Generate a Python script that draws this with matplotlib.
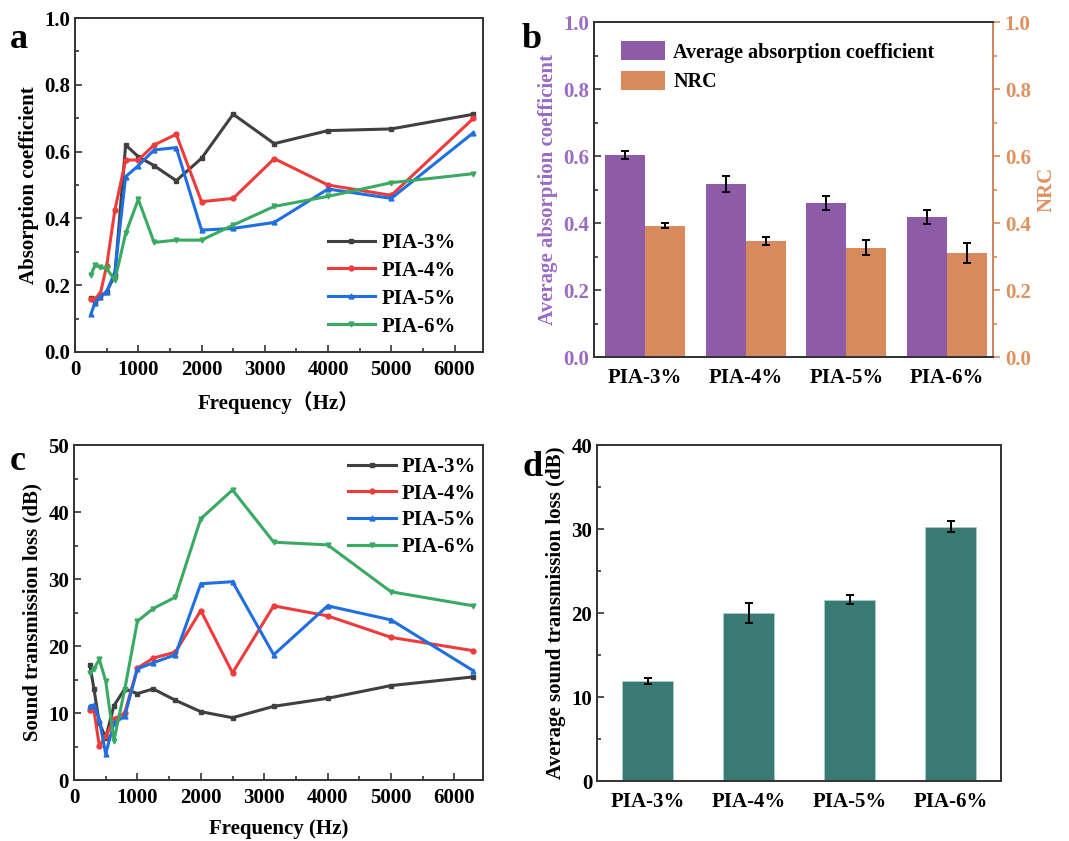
"""
Acoustic performance of PIA foams: absorption (a, b) and transmission loss (c, d)
"""

import matplotlib
matplotlib.use('Agg')
import matplotlib.pyplot as plt
from matplotlib.ticker import MultipleLocator
import numpy as np

plt.rcParams['font.family'] = ['Liberation Serif', 'Noto Sans CJK SC']
plt.rcParams['font.weight'] = 'bold'
plt.rcParams['axes.labelweight'] = 'bold'

FREQ = [250, 315, 400, 500, 630, 800, 1000, 1250, 1600, 2000, 2500, 3150, 4000, 5000, 6300]
SAMPLES = ['PIA-3%', 'PIA-4%', 'PIA-5%', 'PIA-6%']

# absorption coefficient curves (panel a)
ABS_3 = [0.162, 0.148, 0.165, 0.18, 0.23, 0.62, 0.585, 0.558, 0.513, 0.58, 0.712, 0.624, 0.663, 0.668, 0.712]
ABS_4 = [0.16, 0.16, 0.175, 0.258, 0.425, 0.575, 0.575, 0.62, 0.652, 0.45, 0.46, 0.579, 0.50, 0.469, 0.70]
ABS_5 = [0.113, 0.147, 0.165, 0.18, 0.24, 0.525, 0.558, 0.605, 0.612, 0.365, 0.37, 0.388, 0.488, 0.46, 0.657]
ABS_6 = [0.23, 0.26, 0.253, 0.25, 0.215, 0.355, 0.457, 0.328, 0.335, 0.335, 0.38, 0.436, 0.466, 0.507, 0.534]

# sound transmission loss curves (panel c)
STL_3 = [17.2, 13.6, 8.5, 6.3, 11.1, 13.6, 12.9, 13.6, 11.9, 10.2, 9.3, 11.0, 12.2, 14.1, 15.4]
STL_4 = [10.4, 10.4, 5.1, 6.5, 9.1, 10.0, 16.7, 18.2, 19.1, 25.3, 16.0, 26.0, 24.5, 21.3, 19.3]
STL_5 = [11.0, 11.2, 9.0, 3.9, 8.5, 9.5, 16.6, 17.5, 18.7, 29.3, 29.6, 18.7, 26.0, 23.9, 16.3]
STL_6 = [16.0, 16.6, 18.0, 14.8, 5.9, 13.5, 23.7, 25.6, 27.3, 39.0, 43.3, 35.5, 35.1, 28.1, 26.0]

# panel b: averages and NRC with errors
AVG_ABS = [0.602, 0.516, 0.46, 0.417]
AVG_ABS_ERR = [0.012, 0.023, 0.021, 0.021]
NRC = [0.392, 0.347, 0.326, 0.31]
NRC_ERR = [0.007, 0.012, 0.022, 0.030]

# panel d: average STL with errors
AVG_STL = [11.9, 20.0, 21.6, 30.3]
AVG_STL_ERR = [0.36, 1.17, 0.55, 0.65]

LINE_COLORS = ['#404040', '#ee3b3b', '#1f6fe0', '#3aaa63']
MARKERS = ['s', 'o', '^', 'v']
SPINE = '#333333'
PURPLE = '#8e5ba8'
PURPLE_TXT = '#9b6bc4'
ORANGE = '#d98a5c'
ORANGE_TXT = '#e0915f'
TEAL = '#3a7a74'

TICK_FS = 15
LABEL_FS = 15


def style_axes(ax):
    for s in ax.spines.values():
        s.set_color(SPINE)
        s.set_linewidth(1.4)
    ax.tick_params(which='both', direction='in', top=False, right=False,
                   labelsize=TICK_FS, color=SPINE, width=1.2)
    ax.tick_params(which='major', length=5)
    ax.tick_params(which='minor', length=3)


def line_panel(ax, series, ylim, ymaj, ymin, ylabel, xlabel):
    for vals, c, m, name in zip(series, LINE_COLORS, MARKERS, SAMPLES):
        ax.plot(FREQ, vals, color=c, marker=m, markersize=3.5, lw=2.2, label=name)
    ax.set_xlim(0, 6450)
    ax.set_ylim(*ylim)
    ax.xaxis.set_major_locator(MultipleLocator(1000))
    ax.xaxis.set_minor_locator(MultipleLocator(500))
    ax.yaxis.set_major_locator(MultipleLocator(ymaj))
    ax.yaxis.set_minor_locator(MultipleLocator(ymin))
    ax.set_ylabel(ylabel, fontsize=LABEL_FS)
    ax.set_xlabel(xlabel, fontsize=LABEL_FS, labelpad=8)
    style_axes(ax)
    ax.tick_params(axis='x', which='major', pad=6)


fig = plt.figure(figsize=(10.69, 8.41), dpi=100)

# ---- a ----
ax_a = fig.add_axes([0.0702, 0.5815, 0.3816, 0.397])
line_panel(ax_a, [ABS_3, ABS_4, ABS_5, ABS_6], (0, 1.0), 0.2, 0.1,
           'Absorption coefficient', 'Frequency（Hz）')
ax_a.yaxis.set_major_formatter(plt.FormatStrFormatter('%.1f'))
ax_a.legend(loc='lower right', bbox_to_anchor=(0.98, -0.01), frameon=False,
            fontsize=15, handlelength=2.3, labelspacing=0.38, handletextpad=0.3)

# ---- c ----
ax_c = fig.add_axes([0.0692, 0.0725, 0.3826, 0.3983])
line_panel(ax_c, [STL_3, STL_4, STL_5, STL_6], (0, 50), 10, 5,
           'Sound transmission loss (dB)', 'Frequency (Hz)')
ax_c.legend(loc='upper right', bbox_to_anchor=(1.03, 1.02), frameon=False,
            fontsize=15, handlelength=2.3, labelspacing=0.32, handletextpad=0.3)

# ---- b ----
ax_b = fig.add_axes([0.5557, 0.5755, 0.3732, 0.3983])
x = np.arange(len(SAMPLES))
w = 0.4
ax_b.bar(x - w / 2, AVG_ABS, w, color=PURPLE, label='Average absorption coefficient')
ax_b.errorbar(x - w / 2, AVG_ABS, yerr=AVG_ABS_ERR, fmt='none', ecolor='black',
              elinewidth=1.4, capsize=3, capthick=1.4)
ax_b2 = ax_b.twinx()
ax_b2.bar(x + w / 2, NRC, w, color=ORANGE, label='NRC')
ax_b2.errorbar(x + w / 2, NRC, yerr=NRC_ERR, fmt='none', ecolor='black',
               elinewidth=1.4, capsize=3, capthick=1.4)
ax_b.set_xlim(-0.51, 3.46)
for a in (ax_b, ax_b2):
    a.set_ylim(0, 1.0)
    a.yaxis.set_major_locator(MultipleLocator(0.2))
    a.yaxis.set_minor_locator(MultipleLocator(0.1))
    a.yaxis.set_major_formatter(plt.FormatStrFormatter('%.1f'))
style_axes(ax_b)
ax_b.set_xticks(x)
ax_b.set_xticklabels(SAMPLES)
ax_b.tick_params(axis='x', which='both', length=0, pad=8)
ax_b.tick_params(axis='y', labelcolor=PURPLE_TXT)
ax_b.set_ylabel('Average absorption coefficient', fontsize=LABEL_FS, color=PURPLE_TXT)
for s in ax_b2.spines.values():
    s.set_color(SPINE)
    s.set_linewidth(1.4)
ax_b2.spines['right'].set_color(ORANGE)
ax_b2.tick_params(axis='y', which='both', direction='out', colors=ORANGE,
                  labelcolor=ORANGE_TXT, labelsize=TICK_FS, width=1.2)
ax_b2.tick_params(axis='y', which='major', length=5)
ax_b2.tick_params(axis='y', which='minor', length=3)
ax_b2.set_ylabel('NRC', fontsize=LABEL_FS, color=ORANGE_TXT)
h1, l1 = ax_b.get_legend_handles_labels()
h2, l2 = ax_b2.get_legend_handles_labels()
ax_b2.legend(h1 + h2, l1 + l2, loc='upper left', bbox_to_anchor=(0.022, 0.997),
             frameon=False, fontsize=14.5, handlelength=2.2, handleheight=1.1,
             labelspacing=0.4, handletextpad=0.4)

# ---- d ----
ax_d = fig.add_axes([0.5585, 0.0713, 0.3779, 0.3995])
ax_d.bar(x, AVG_STL, 0.5, color=TEAL, edgecolor='#a8cdc8', linewidth=0.6)
ax_d.errorbar(x, AVG_STL, yerr=AVG_STL_ERR, fmt='none', ecolor='black',
              elinewidth=1.4, capsize=3, capthick=1.4)
ax_d.set_xlim(-0.5, 3.5)
ax_d.set_ylim(0, 40)
ax_d.yaxis.set_major_locator(MultipleLocator(10))
ax_d.yaxis.set_minor_locator(MultipleLocator(5))
style_axes(ax_d)
ax_d.set_xticks(x)
ax_d.set_xticklabels(SAMPLES)
ax_d.tick_params(axis='x', which='both', length=0, pad=8)
ax_d.set_ylabel('Average sound transmission loss (dB)', fontsize=LABEL_FS)

# panel letters
for lbl, px, py in [('a', 10, 48), ('b', 522, 48), ('c', 10, 470), ('d', 522, 476)]:
    fig.text(px / 1069, 1 - py / 841, lbl, fontsize=26, fontweight='bold')

plt.savefig('out.png', dpi=100)
plt.close()
